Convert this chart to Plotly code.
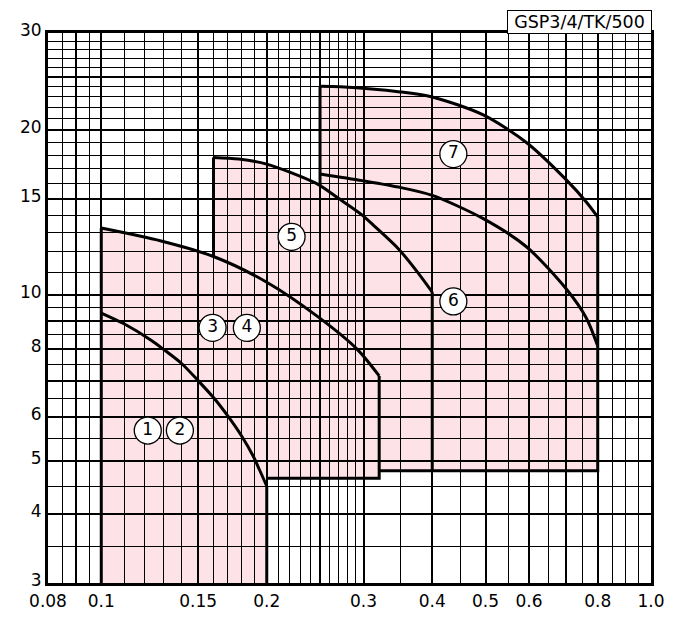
import numpy as np
import plotly.graph_objects as go

# ---------------- data ----------------
# axis ticks / grid
x_major = [0.08, 0.09, 0.1, 0.15, 0.2, 0.25, 0.3, 0.4, 0.5, 0.6, 0.7, 0.8, 1.0]
x_major_text = ['0.08', '', '0.1', '0.15', '0.2', '', '0.3', '0.4', '0.5', '0.6', '', '0.8', '1.0']
x_minor = [0.085, 0.095, 0.11, 0.12, 0.13, 0.14, 0.16, 0.17, 0.18, 0.19,
           0.21, 0.22, 0.23, 0.24, 0.26, 0.27, 0.28, 0.29,
           0.35, 0.45, 0.55, 0.65, 0.75, 0.85, 0.9, 0.95]
y_major = [3, 4, 5, 6, 7, 8, 9, 10, 15, 20, 25, 30]
y_major_text = ['3', '4', '5', '6', '', '8', '', '10', '15', '20', '', '30']
y_minor = [3.5, 4.5, 5.5, 6.5, 7.5, 8.5, 9.5, 11, 12, 13, 14, 16, 17, 18, 19,
           21, 22, 23, 24, 26, 27, 28, 29]

# boundary curves
c12_x = [0.1, 0.11, 0.1232, 0.13, 0.14, 0.15, 0.16, 0.17, 0.18, 0.1888, 0.1938, 0.2]
c12_y = [9.29, 8.88, 8.29, 7.97, 7.52, 7.00, 6.52, 6.03, 5.55, 5.11, 4.83, 4.50]

c34_x = [0.1, 0.1285, 0.16, 0.2, 0.2473, 0.2922, 0.3203]
c34_y = [13.26, 12.56, 11.77, 10.57, 9.16, 7.98, 7.14]

c5_x = [0.16, 0.178, 0.2, 0.2456, 0.2705, 0.2983, 0.3128, 0.3473, 0.3775, 0.4]
c5_y = [17.82, 17.7, 17.33, 16.0, 15.0, 14.0, 13.41, 12.15, 10.97, 10.14]

c6_x = [0.25, 0.2983, 0.3473, 0.4, 0.4953, 0.5934, 0.7014, 0.7626, 0.8]
c6_y = [16.63, 16.17, 15.74, 15.20, 13.79, 12.26, 10.27, 9.10, 8.09]

c7_x = [0.25, 0.2723, 0.3499, 0.4, 0.4953, 0.5934, 0.7014, 0.7626, 0.8]
c7_y = [24.0, 23.95, 23.44, 22.95, 21.29, 18.97, 16.22, 14.79, 13.89]

# straight limits
y_min = 3
y34_floor = 4.65
y567_floor = 4.8
y7_left_low = 15.83

# labels
label_text = ['1', '2', '3', '4', '5', '6', '7']
label_x = [0.1215, 0.139, 0.1594, 0.184, 0.2219, 0.437, 0.437]
label_y = [5.68, 5.68, 8.73, 8.73, 12.78, 9.75, 18.07]

model_text = 'GSP3/4/TK/500'

# ---------------- figure ----------------
PINK = '#fde3e8'
FONT = 'DejaVu Sans'


def datapath(xs, ys):
    pts = ['%s%.5f,%.5f' % ('M' if i == 0 else 'L', a, b) for i, (a, b) in enumerate(zip(xs, ys))]
    return ' '.join(pts) + ' Z'


x34_right = c34_x[-1]
shapes = []
poly34_x = [c34_x[0]] + c34_x + [x34_right, c12_x[-1], c12_x[-1]]
poly34_y = [y_min] + c34_y + [y34_floor, y34_floor, y_min]
poly5_x = [c5_x[0]] + c5_x + [c5_x[-1]]
poly5_y = [y567_floor] + c5_y + [y567_floor]
poly7_x = [c7_x[0]] + c7_x + [c7_x[-1]]
poly7_y = [y567_floor] + c7_y + [y567_floor]
for px, py in [(poly34_x, poly34_y), (poly5_x, poly5_y), (poly7_x, poly7_y)]:
    shapes.append(dict(type='path', xref='x', yref='y', layer='below',
                       path=datapath(px, py), fillcolor=PINK, line=dict(width=0)))

fig = go.Figure()
LW = 3


def add_line(xs, ys, spline=False):
    fig.add_trace(go.Scatter(x=xs, y=ys, mode='lines', hoverinfo='skip', showlegend=False,
                             line=dict(color='black', width=LW,
                                       shape='spline' if spline else 'linear',
                                       smoothing=0.8)))


# curves
add_line(c12_x, c12_y, True)
add_line(c34_x, c34_y, True)
add_line(c5_x, c5_y, True)
add_line(c6_x, c6_y, True)
add_line(c7_x, c7_y, True)
# straight edges
add_line([c34_x[0], c34_x[0]], [y_min, c34_y[0]])
add_line([c12_x[-1], c12_x[-1]], [c12_y[-1], y_min])
add_line([x34_right, x34_right, c12_x[-1]], [c34_y[-1], y34_floor, y34_floor])
add_line([c5_x[0], c5_x[0]], [c34_y[2], c5_y[0]])
add_line([c5_x[-1], c5_x[-1]], [c5_y[-1], y567_floor])
add_line([x34_right, c7_x[-1], c7_x[-1]], [y567_floor, y567_floor, c7_y[-1]])
add_line([c7_x[0], c7_x[0]], [y7_left_low, c7_y[0]])

# labels
fig.add_trace(go.Scatter(x=label_x, y=label_y, mode='markers+text', text=label_text,
                         textposition='middle center', hoverinfo='skip', showlegend=False,
                         marker=dict(symbol='circle', size=27, color='white',
                                     line=dict(color='black', width=1.3)),
                         textfont=dict(family=FONT, size=17, color='black')))

axis_common = dict(type='log', showline=True, mirror=True, linewidth=3, linecolor='black',
                   showgrid=True, gridcolor='black', gridwidth=2, zeroline=False,
                   ticks='', tickmode='array',
                   tickfont=dict(family=FONT, size=17, color='black'))

fig.update_layout(
    width=670, height=615,
    margin=dict(l=40, r=27, t=25, b=36),
    paper_bgcolor='white', plot_bgcolor='white',
    shapes=shapes,
    xaxis=dict(axis_common, range=[np.log10(0.08), 0], tickvals=x_major, ticktext=x_major_text,
               ticklabelstandoff=1,
               minor=dict(tickmode='array', tickvals=x_minor, showgrid=True,
                          gridcolor='black', gridwidth=1, ticks='')),
    yaxis=dict(axis_common, range=[np.log10(3), np.log10(30)], tickvals=y_major, ticktext=y_major_text,
               ticklabelshift=-3,
               minor=dict(tickmode='array', tickvals=y_minor, showgrid=True,
                          gridcolor='black', gridwidth=1, ticks='')),
    annotations=[dict(text=model_text, xref='paper', yref='paper', x=1.0, y=1.0,
                      xanchor='right', yanchor='bottom', showarrow=False, yshift=-1, xshift=1,
                      font=dict(family=FONT, size=17.5, color='black'),
                      bordercolor='black', borderwidth=1, borderpad=2, bgcolor='white',
                      width=139, height=18)],
)

fig.write_html('out.html')
